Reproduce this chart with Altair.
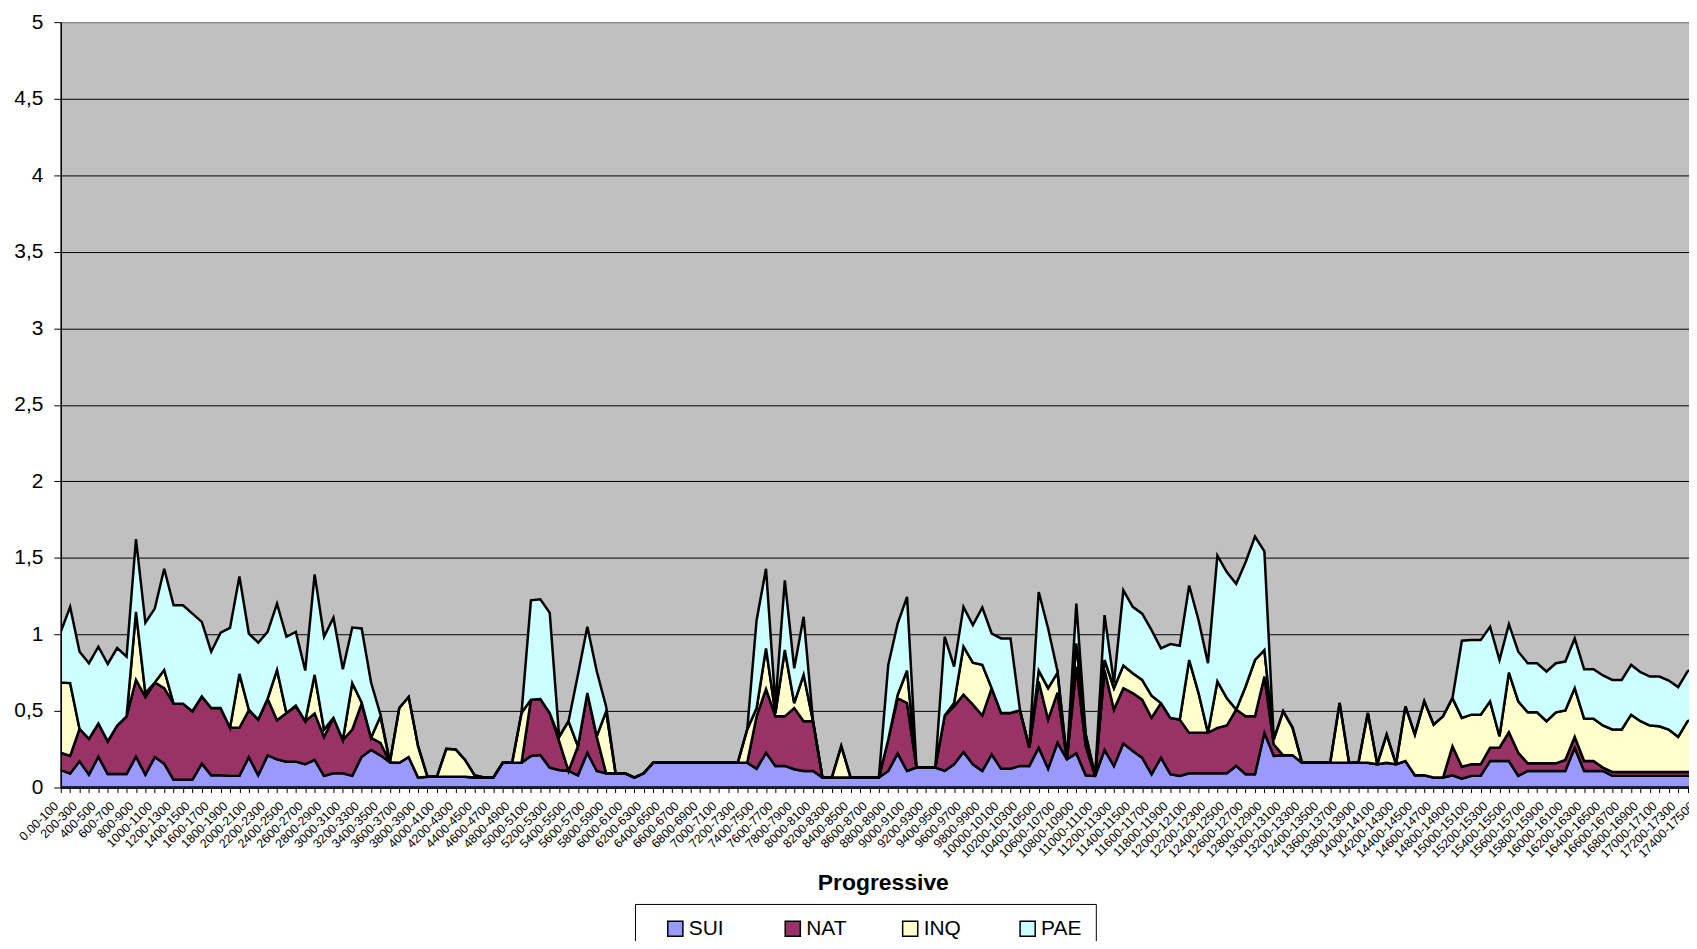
import json
import altair as alt
import pandas as pd

SERIES = ["SUI", "NAT", "INQ", "PAE"]
COLORS = ["#9999FF", "#993366", "#FFFFCC", "#CCFFFF"]

# labels shown on the category axis (every second category)
LABELS = [
    "0.00-100", "200-300", "400-500", "600-700", "800-900", "1000-1100", "1200-1300",
    "1400-1500", "1600-1700", "1800-1900", "2000-2100", "2200-2300", "2400-2500",
    "2600-2700", "2800-2900", "3000-3100", "3200-3300", "3400-3500", "3600-3700",
    "3800-3900", "4000-4100", "4200-4300", "4400-4500", "4600-4700", "4800-4900",
    "5000-5100", "5200-5300", "5400-5500", "5600-5700", "5800-5900", "6000-6100",
    "6200-6300", "6400-6500", "6600-6700", "6800-6900", "7000-7100", "7200-7300",
    "7400-7500", "7600-7700", "7800-7900", "8000-8100", "8200-8300", "8400-8500",
    "8600-8700", "8800-8900", "9000-9100", "9200-9300", "9400-9500", "9600-9700",
    "9800-9900", "10000-10100", "10200-10300", "10400-10500", "10600-10700",
    "10800-10900", "11000-11100", "11200-11300", "11400-11500", "11600-11700",
    "11800-11900", "12000-12100", "12200-12300", "12400-12500", "12600-12700",
    "12800-12900", "13000-13100", "13200-13300", "12400-13500", "13600-13700",
    "13800-13900", "14000-14100", "14200-14300", "14400-14500", "14600-14700",
    "14800-14900", "15000-15100", "15200-15300", "15400-15500", "15600-15700",
    "15800-15900", "16000-16100", "16200-16300", "16400-16500", "16600-16700",
    "16800-16900", "17000-17100", "17200-17300", "17400-17500",
]

SUI = [
    .115, .091, .171, .084, .201, .089, .089, .089, .201, .084,
    .199, .156, .05, .05, .05, .156, .08, .08, .076, .076,
    .199, .08, .21, .184, .169, .169, .152, .18, .076, .093,
    .093, .076, .201, .245, .21, .165, .162, .199, .065, .07,
    .07, .07, .07, .07, .065, .065, .065, .162, .162, .162,
    .206, .212, .13, .115, .108, .08, .227, .108, .093, .093,
    .093, .065, .093, .162, .162, .162, .162, .162, .162, .162,
    .162, .162, .162, .162, .123, .227, .141, .141, .119, .108,
    .108, .065, .065, .065, .065, .065, .065, .065, .108, .223,
    .108, .13, .13, .13, .108, .152, .232, .152, .108, .216,
    .123, .123, .141, .141, .26, .123, .292, .184, .223, .08,
    .076, .245, .141, .288, .238, .195, .087, .195, .087, .076,
    .093, .093, .093, .093, .093, .141, .087, .087, .357, .206,
    .21, .21, .162, .162, .162, .162, .162, .162, .162, .162,
    .152, .162, .152, .173, .08, .08, .065, .065, .08, .058,
    .076, .076, .173, .173, .173, .076, .108, .108, .108, .108,
    .108, .26, .108, .108, .108, .076, .076, .076, .076, .076,
    .076, .076, .076, .076, .076,
]
NAT = [
    .112, .115, .212, .234, .217, .212, .316, .376, .502, .507,
    .487, .493, .498, .498, .448, .439, .439, .439, .314, .314,
    .305, .364, .37, .255, .318, .361, .281, .303, .255, .362,
    .217, .303, .347, .08, .082, 0, 0, 0, 0, 0,
    0, 0, 0, 0, 0, 0, 0, 0, 0, 0,
    .368, .366, .357, .188, 0, .19, .39, .223, 0, 0,
    0, 0, 0, 0, 0, 0, 0, 0, 0, 0,
    0, 0, 0, 0, .342, .416, .324, .324, .4, .325,
    .325, 0, 0, 0, 0, 0, 0, 0, .206, .361,
    .444, 0, 0, 0, .362, .378, .374, .389, .362, .433,
    .364, .364, .363, .119, .433, .321, .328, 0, .567, .19,
    0, .523, .368, .361, .379, .379, .368, .357, .368, .368,
    .264, .264, .264, .297, .312, .368, .378, .378, .368, .075,
    0, 0, 0, 0, 0, 0, 0, 0, 0, 0,
    0, 0, 0, 0, 0, 0, 0, 0, .19, .078,
    .076, .076, .087, .087, .188, .151, .05, .05, .05, .05,
    .072, .071, .065, .065, .022, .026, .026, .026, .026, .026,
    .026, .026, .026, .026, .026,
]
INQ = [
    .459, .476, 0, 0, 0, 0, 0, 0, .444, .026,
    0, .119, 0, 0, 0, 0, 0, 0, 0, .352,
    .005, 0, 0, .329, 0, .005, 0, .253, .048, 0,
    0, .303, .008, 0, .173, 0, .357, .392, .205, 0,
    0, .183, .179, .11, .015, 0, 0, 0, 0, .325,
    0, 0, 0, .028, .325, 0, 0, .005, .405, 0,
    0, 0, 0, 0, 0, 0, 0, 0, 0, 0,
    0, 0, 0, .217, .054, .266, .02, .433, .033, .303,
    0, 0, 0, .205, 0, 0, 0, 0, 0, .022,
    .212, 0, 0, 0, 0, .022, .314, .275, .331, 0,
    0, 0, 0, 0, .071, .205, .13, 0, .152, .076,
    0, .065, .14, .148, .13, .129, .145, 0, 0, 0,
    .476, .26, 0, .303, .179, 0, .195, .368, .173, .033,
    .288, .18, 0, 0, 0, 0, .39, 0, 0, .325,
    0, .184, 0, .357, .266, .483, .346, .4, .314, .319,
    .324, .324, .303, .075, .39, .336, .333, .333, .275, .333,
    .324, .318, .277, .277, .275, .277, .277, .374, .331, .303,
    .298, .277, .229, .331, .36,
]
PAE = [
    .331, .498, .504, .494, .502, .506, .506, .39, .476, .459,
    .483, .661, .642, .642, .638, .487, .368, .492, .653, .637,
    .497, .502, .437, .433, .498, .482, .331, .656, .606, .655,
    .463, .363, .483, .361, .011, 0, 0, 0, 0, 0,
    0, 0, 0, 0, 0, 0, 0, 0, 0, 0,
    .649, .651, .654, 0, 0, .466, .433, .423, .03, 0,
    0, 0, 0, 0, 0, 0, 0, 0, 0, 0,
    0, 0, 0, 0, .574, .52, .056, .455, .227, .379,
    0, 0, 0, 0, 0, 0, 0, 0, .487, .465,
    .481, 0, 0, 0, .515, .238, .26, .245, .374, .357,
    .487, .487, .005, 0, .513, .39, .01, 0, .259, 0,
    0, .293, .033, .491, .433, .433, .428, .357, .482, .482,
    .487, .476, .455, .822, .823, .822, .812, .806, .645, 0,
    0, 0, 0, 0, 0, 0, 0, 0, 0, 0,
    0, 0, 0, 0, 0, 0, 0, 0, 0, .504,
    .487, .487, .487, .498, .316, .324, .321, .321, .325, .321,
    .319, .325, .323, .323, .327, .324, .324, .325, .32, .32,
    .325, .32, .325, .325, .33,
]

Y_TICKS = [0, 0.5, 1, 1.5, 2, 2.5, 3, 3.5, 4, 4.5, 5]

rows = []
for k, (name, vals) in enumerate(zip(SERIES, [SUI, NAT, INQ, PAE])):
    for i, v in enumerate(vals):
        rows.append({"i": i, "v": v, "s": name, "k": k})
df = pd.DataFrame(rows)

n = len(SUI)
label_expr = (
    "datum.value % 2 == 0 ? " + json.dumps(LABELS) + "[datum.value / 2] : ''"
)

FONT = "Liberation Sans"

x_axis = alt.Axis(
    values=list(range(n)),
    labelExpr=label_expr,
    labelAngle=315,
    labelAlign="right",
    labelBaseline="middle",
    labelFontSize=12.5,
    labelFont=FONT,
    labelColor="black",
    labelPadding=11,
    labelOffset=-5,
    labelOverlap=False,
    labelBound=False,
    labelFlush=False,
    tickSize=5,
    tickColor="black",
    tickWidth=1,
    domainColor="black",
    domainWidth=1.5,
    grid=False,
    title="Progressive",
    titleFont=FONT,
    titleFontSize=23,
    titleFontWeight="bold",
    titleColor="black",
    titleX=826,
    titleY=102,
    titleAlign="center",
    titleBaseline="alphabetic",
)

y_axis = alt.Axis(
    values=Y_TICKS,
    labelExpr="replace(format(datum.value, '~g'), '.', ',')",
    labelFontSize=21,
    labelFont=FONT,
    labelColor="black",
    labelPadding=11,
    tickSize=7,
    tickColor="black",
    tickWidth=1,
    domainColor="black",
    domainWidth=1.5,
    grid=True,
    gridColor={"condition": {"test": "datum.value >= 5", "value": "#808080"}, "value": "#000000"},
    gridWidth=1,
    gridOpacity=1,
    title=None,
)

legend = alt.Legend(
    title=None,
    orient="none",
    legendX=577,
    legendY=886,
    direction="horizontal",
    columns=4,
    gridAlign="all",
    columnPadding=37,
    padding=14,
    symbolOffset=16,
    strokeColor="black",
    fillColor="white",
    symbolType="square",
    symbolSize=230,
    symbolStrokeColor="black",
    symbolStrokeWidth=1.5,
    symbolOpacity=1,
    labelFont=FONT,
    labelFontSize=21,
    labelColor="black",
    labelOffset=3,
)

chart = (
    alt.Chart(df)
    .mark_area(stroke="black", strokeWidth=2.5, clip=True, opacity=1, strokeJoin="miter")
    .encode(
        x=alt.X("i:Q", scale=alt.Scale(domain=[0, n - 1], range=[0, 1644], nice=False, zero=False), axis=x_axis),
        y=alt.Y("v:Q", stack="zero", scale=alt.Scale(domain=[0, 5], nice=False), axis=y_axis),
        fill=alt.Fill("s:N", scale=alt.Scale(domain=SERIES, range=COLORS), legend=legend),
        order=alt.Order("k:Q", sort="ascending"),
    )
    .properties(
        width=1636,
        height=769,
        autosize=alt.AutoSizeParams(type="none"),
        padding={"left": 53, "top": 12, "right": 0, "bottom": 152},
        background="white",
    )
    .configure_view(fill="#C0C0C0", stroke="#808080", strokeWidth=1)
)

chart.save("out.html", embed_options={"renderer": "svg", "actions": False})
